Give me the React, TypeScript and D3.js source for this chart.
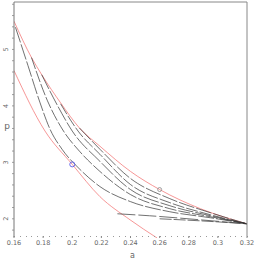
import * as d3 from 'd3'

const width = 262
const height = 262

const margin = { top: 2, right: 15, bottom: 26, left: 14 }

// a (x) and p (y) values
const upperA = [0.16, 0.172, 0.179, 0.192, 0.205, 0.219, 0.24, 0.26, 0.288, 0.32]
const upperP = [5.5, 4.857, 4.554, 4.054, 3.607, 3.286, 2.839, 2.518, 2.179, 1.911]

const lowerA = [0.16, 0.1813, 0.2, 0.219, 0.2397, 0.2582]
const lowerP = [4.625, 3.554, 2.964, 2.393, 1.982, 1.661]

const b1A = [0.161, 0.1696, 0.1779, 0.1847, 0.193, 0.2053, 0.219, 0.24, 0.267, 0.295, 0.32]
const b1P = [5.393, 4.714, 4.054, 3.589, 3.232, 2.875, 2.571, 2.304, 2.125, 2.018, 1.911]
const b2A = [0.172, 0.183, 0.194, 0.205, 0.219, 0.24, 0.267, 0.295, 0.32]
const b2P = [4.857, 4.089, 3.554, 3.196, 2.839, 2.429, 2.179, 2.036, 1.911]
const b3A = [0.179, 0.19, 0.2, 0.219, 0.24, 0.267, 0.295, 0.32]
const b3P = [4.554, 4.0, 3.554, 3.018, 2.518, 2.232, 2.054, 1.911]
const b4A = [0.192, 0.204, 0.219, 0.24, 0.267, 0.295, 0.32]
const b4P = [4.036, 3.554, 3.143, 2.607, 2.286, 2.071, 1.911]
const b5A = [0.205, 0.219, 0.24, 0.267, 0.295, 0.32]
const b5P = [3.607, 3.232, 2.714, 2.357, 2.107, 1.911]
const s1A = [0.231, 0.253, 0.288, 0.32]
const s1P = [2.089, 2.054, 1.982, 1.911]
const s2A = [0.26, 0.288, 0.32]
const s2P = [2.0, 1.964, 1.911]

const xTicks = [0.16, 0.18, 0.2, 0.22, 0.24, 0.26, 0.28, 0.3, 0.32]
const xTickLabels = ['0.16', '0.18', '0.2', '0.22', '0.24', '0.26', '0.28', '0.3', '0.32']
const yTicks = [2, 3, 4, 5]

const blueMark = { a: 0.2, p: 2.964 }
const greyMark = { a: 0.26, p: 2.518 }

const zip = (xs: number[], ys: number[]) => xs.map((x, i) => [x, ys[i]] as [number, number])

const blackCurves = [
  { pts: zip(b1A, b1P), dash: '16 2' },
  { pts: zip(b2A, b2P), dash: '12 2' },
  { pts: zip(b3A, b3P), dash: '16 2' },
  { pts: zip(b4A, b4P), dash: '12 2' },
  { pts: zip(b5A, b5P), dash: '16 2' },
  { pts: zip(s1A, s1P), dash: '18 3' },
  { pts: zip(s2A, s2P), dash: '12 2' },
]

function App() {
  const innerWidth = width - margin.left - margin.right
  const innerHeight = height - margin.top - margin.bottom

  const xScale = d3.scaleLinear().domain([0.16, 0.32]).range([0, innerWidth])
  const yScale = d3.scaleLinear().domain([1.66, 5.84]).range([innerHeight + 2, 0])

  const line = d3
    .line<[number, number]>()
    .x((d) => xScale(d[0]))
    .y((d) => yScale(d[1]))
    .curve(d3.curveMonotoneX)

  const xMinor = d3.range(0.16, 0.3201, 0.004)
  const yMinor = d3.range(1.8, 5.81, 0.2)

  return (
    <svg width={width} height={height} style={{ position: 'absolute', left: 0, top: 0 }}>
      <defs>
        <clipPath id="plot">
          <rect x={0} y={0} width={innerWidth} height={innerHeight + 2} />
        </clipPath>
      </defs>
      <g transform={`translate(${margin.left}, ${margin.top})`} fontFamily="DejaVu Sans" fill="#666">
        <g clipPath="url(#plot)">
          <path d={line(zip(upperA, upperP)) || ''} fill="none" stroke="#f47c7c" strokeWidth={0.8} />
          <path d={line(zip(lowerA, lowerP)) || ''} fill="none" stroke="#f47c7c" strokeWidth={0.8} />
          {blackCurves.map((c, i) => (
            <path key={i} d={line(c.pts) || ''} fill="none" stroke="#333" strokeWidth={0.7} strokeDasharray={c.dash} />
          ))}
          <circle cx={xScale(blueMark.a)} cy={yScale(blueMark.p)} r={2.5} fill="none" stroke="#5858e8" strokeWidth={0.9} />
          <circle cx={xScale(greyMark.a)} cy={yScale(greyMark.p)} r={2} fill="none" stroke="#888" strokeWidth={0.8} />
        </g>

        {/* frame */}
        <line x1={0} x2={innerWidth} y1={0} y2={0} stroke="#888" />
        <line x1={innerWidth} x2={innerWidth} y1={0} y2={innerHeight} stroke="#888" />
        <line x1={0} x2={0} y1={0} y2={innerHeight + 1} stroke="#777" />

        {/* x axis: dotted minor ticks */}
        {xMinor.map((t, i) => (
          <rect key={i} x={Math.round(xScale(t))} y={innerHeight} width={1} height={1} fill="#999" />
        ))}
        {xTicks.map((t, i) => (
          <g key={t} transform={`translate(${xScale(t)}, ${innerHeight})`}>
            <rect x={-0.5} y={0} width={1} height={2} fill="#888" />
            <text y={9} textAnchor="middle" fontSize={6.5}>
              {xTickLabels[i]}
            </text>
          </g>
        ))}
        <text x={innerWidth / 2 + 2} y={innerHeight + 22} textAnchor="middle" fontSize={8}>
          a
        </text>

        {/* y axis */}
        {yMinor.map((t, i) => (
          <line key={i} x1={-2} x2={0} y1={yScale(t)} y2={yScale(t)} stroke="#888" strokeWidth={0.8} />
        ))}
        {yTicks.map((t) => (
          <g key={t} transform={`translate(-8, ${yScale(t)}) rotate(-90)`}>
            <text textAnchor="middle" dy="0.35em" fontSize={6.5}>
              {t}
            </text>
          </g>
        ))}
        <text x={-7} y={127} textAnchor="middle" fontSize={9}>
          p
        </text>
      </g>
    </svg>
  )
}

export default App
